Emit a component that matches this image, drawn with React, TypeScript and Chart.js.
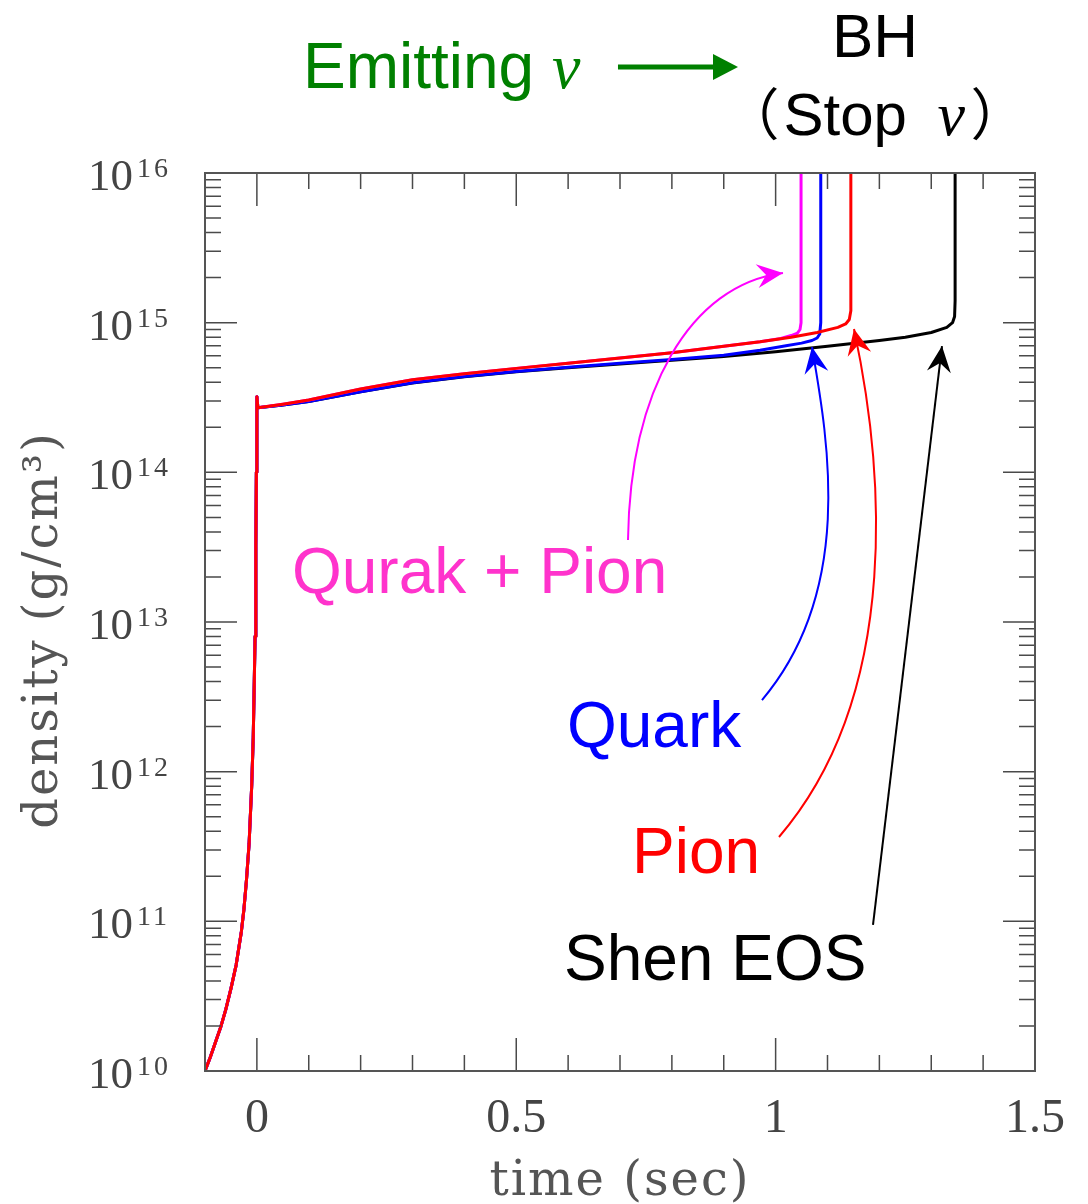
import React, { useEffect, useRef } from 'react';
import { Chart, registerables } from 'chart.js';

Chart.register(...registerables);

// ---------- data (time in sec, density in g/cm^3) ----------
const COLLAPSE_TIME = [-0.1, -0.09, -0.08, -0.07, -0.06, -0.05, -0.04, -0.03, -0.025, -0.02, -0.015, -0.01, -0.007, -0.005, -0.0035, -0.002, -0.001, 0];
const COLLAPSE_DENSITY = [1.0e10, 1.23e10, 1.55e10, 1.95e10, 2.57e10, 3.55e10, 5.1e10, 8.5e10, 1.2e11, 1.9e11, 3.3e11, 8e11, 1.7e12, 4e12, 8e12, 3.2e13, 1e14, 3.2e14];

const SHEN_TIME = [0.002, 0.05, 0.1, 0.2, 0.3, 0.4, 0.5, 0.6, 0.7, 0.8, 0.9, 1.0, 1.1, 1.2, 1.25, 1.3, 1.33, 1.341, 1.345, 1.346, 1.346];
const SHEN_DENSITY = [2.7e14, 2.82e14, 2.97e14, 3.45e14, 3.95e14, 4.35e14, 4.7e14, 5.0e14, 5.3e14, 5.6e14, 5.95e14, 6.4e14, 6.95e14, 7.6e14, 8.0e14, 8.6e14, 9.3e14, 1.0e15, 1.1e15, 1.4e15, 2e16];

const QUARK_TIME = [0.002, 0.05, 0.1, 0.2, 0.3, 0.4, 0.5, 0.6, 0.7, 0.8, 0.9, 0.97, 1.02, 1.05, 1.07, 1.08, 1.085, 1.087, 1.087];
const QUARK_DENSITY = [2.7e14, 2.82e14, 2.97e14, 3.45e14, 3.97e14, 4.37e14, 4.72e14, 5.03e14, 5.35e14, 5.68e14, 6.05e14, 6.55e14, 7.0e14, 7.3e14, 7.6e14, 7.9e14, 8.4e14, 1.0e15, 2e16];

const PION_TIME = [0.002, 0.05, 0.1, 0.2, 0.3, 0.4, 0.5, 0.6, 0.7, 0.8, 0.9, 0.97, 1.03, 1.08, 1.12, 1.135, 1.142, 1.145, 1.145];
const PION_DENSITY = [2.7e14, 2.85e14, 3.04e14, 3.6e14, 4.15e14, 4.55e14, 4.95e14, 5.35e14, 5.8e14, 6.3e14, 6.95e14, 7.45e14, 8.0e14, 8.6e14, 9.3e14, 9.8e14, 1.05e15, 1.2e15, 2e16];

const QP_TIME = [0.002, 0.05, 0.1, 0.2, 0.3, 0.4, 0.5, 0.6, 0.7, 0.8, 0.9, 0.97, 1.01, 1.03, 1.042, 1.047, 1.049, 1.049];
const QP_DENSITY = [2.7e14, 2.85e14, 3.04e14, 3.6e14, 4.15e14, 4.55e14, 4.95e14, 5.35e14, 5.8e14, 6.3e14, 6.95e14, 7.45e14, 7.85e14, 8.2e14, 8.5e14, 9.0e14, 1.0e15, 2e16];

// ---------- axes ----------
const X_MIN = -0.1;
const X_MAX = 1.5;
const X_MINOR_STEP = 0.1;
const X_TICK_VALUES = [0, 0.5, 1, 1.5];
const X_TICK_LABELS = ['0', '0.5', '1', '1.5'];
const Y_MIN = 1e10;
const Y_MAX = 1e16;
const Y_DECADES = [10, 11, 12, 13, 14, 15, 16];
const X_TITLE = 'time (sec)';
const Y_TITLE = 'density (g/cm\u00B3)';

// ---------- annotations (anchored in data coordinates) ----------
const CURVE_ARROWS = [
  { color: '#ff00ff', pts: [[0.7154, 3.53e13], [0.7193, 3.55e14], [0.8349, 1.79e15], [1.0142, 2.15e15]] },
  { color: '#0000ff', pts: [[0.9737, 3.01e12], [1.153, 1.64e13], [1.101, 1.64e14], [1.0701, 6.87e14]] },
  { color: '#ff0000', pts: [[1.0065, 3.66e11], [1.2494, 3.52e12], [1.2051, 1.21e14], [1.1511, 9.08e14]] },
  { color: '#000000', pts: [[1.1877, 9.46e10], [1.3207, 6.98e14]] },
];
const MODEL_LABELS = [
  { text: 'Qurak + Pion', color: '#ff33cc', at: [0.0677, 1.56e13] },
  { text: 'Quark', color: '#0000ff', at: [0.5978, 1.46e12] },
  { text: 'Pion', color: '#ff0000', at: [0.7231, 2.1e11] },
  { text: 'Shen EOS', color: '#000000', at: [0.592, 4.06e10] },
];
const EMIT_TEXT = 'Emitting';
const EMIT_AT = [0.0889, 3.7e16];
const EMIT_ARROW = [[0.6961, 5.11e16], [0.9275, 5.11e16]];
const BH_TEXT = 'BH';
const BH_AT = [1.1916, 5.96e16];
const STOP_TEXT = 'Stop';
const STOP_AT = [1.1916, 1.8e16];
const NU = '\u03BD';

const SANS = '"Liberation Sans", Arial, sans-serif';
const SERIF = '"Liberation Serif", "Times New Roman", serif';
const TITLE_SERIF = '"DejaVu Serif", serif';
const CJK = '"Noto Sans CJK JP", "Noto Sans CJK SC", sans-serif';

function series(time: number[], dens: number[]) {
  const pts = COLLAPSE_TIME.map((t, i) => ({ x: t, y: COLLAPSE_DENSITY[i] }));
  return pts.concat(time.map((t, i) => ({ x: t, y: dens[i] })));
}

function arrowHead(ctx: CanvasRenderingContext2D, tx: number, ty: number, fx: number, fy: number) {
  const dx = tx - fx, dy = ty - fy;
  const L = Math.hypot(dx, dy) || 1;
  const ux = dx / L, uy = dy / L;
  const len = 26, hw = 12, notch = 17;
  const bx = tx - ux * len, by = ty - uy * len;
  ctx.beginPath();
  ctx.moveTo(tx, ty);
  ctx.lineTo(bx - uy * hw, by + ux * hw);
  ctx.lineTo(tx - ux * notch, ty - uy * notch);
  ctx.lineTo(bx + uy * hw, by - ux * hw);
  ctx.closePath();
  ctx.fill();
}

const decorPlugin = {
  id: 'decor',
  afterDatasetsDraw(chart: any) {
    const { ctx, chartArea, scales } = chart;
    const xs = scales.x, ys = scales.y;
    const { left, right, top, bottom } = chartArea;
    const px = (v: number) => xs.getPixelForValue(v);
    const py = (v: number) => ys.getPixelForValue(v);
    ctx.save();

    // inward tick marks on all four sides
    ctx.strokeStyle = '#4a4a4a';
    ctx.lineWidth = 1.5;
    ctx.beginPath();
    const nx = Math.round((X_MAX - X_MIN) / X_MINOR_STEP);
    for (let i = 0; i <= nx; i++) {
      const v = X_MIN + i * X_MINOR_STEP;
      const major = Math.abs(v * 2 - Math.round(v * 2)) < 1e-6;
      const len = major ? 33 : 16;
      const x = px(v);
      ctx.moveTo(x, bottom); ctx.lineTo(x, bottom - len);
      ctx.moveTo(x, top); ctx.lineTo(x, top + len);
    }
    for (const k of Y_DECADES) {
      for (let m = 1; m <= 9; m++) {
        if (k === Y_DECADES[Y_DECADES.length - 1] && m > 1) break;
        const y = py(m * Math.pow(10, k));
        const len = m === 1 ? 32 : 16;
        ctx.moveTo(left, y); ctx.lineTo(left + len, y);
        ctx.moveTo(right, y); ctx.lineTo(right - len, y);
      }
    }
    ctx.stroke();

    // frame
    ctx.strokeStyle = '#555';
    ctx.lineWidth = 2;
    ctx.strokeRect(left, top, right - left, bottom - top);

    // x tick labels
    ctx.fillStyle = '#444';
    ctx.font = `48px ${SERIF}`;
    ctx.textAlign = 'center';
    ctx.textBaseline = 'alphabetic';
    X_TICK_VALUES.forEach((v, i) => ctx.fillText(X_TICK_LABELS[i], px(v), bottom + 61));

    // y tick labels 10^k
    for (const k of Y_DECADES) {
      const y = py(Math.pow(10, k));
      ctx.font = `45px ${SERIF}`;
      ctx.textAlign = 'right';
      ctx.fillText('10', left - 72, y + 17);
      ctx.font = `28px ${SERIF}`;
      ctx.textAlign = 'left';
      (ctx as any).letterSpacing = '3px';
      ctx.fillText(String(k), left - 68, y + 4);
      (ctx as any).letterSpacing = '0px';
    }

    // axis titles
    ctx.fillStyle = '#555';
    ctx.font = `48px ${TITLE_SERIF}`;
    (ctx as any).letterSpacing = '2px';
    ctx.textAlign = 'center';
    ctx.fillText(X_TITLE, (left + right) / 2, bottom + 124);
    ctx.save();
    ctx.translate(left - 148, (top + bottom) / 2 + 8);
    ctx.rotate(-Math.PI / 2);
    ctx.fillText(Y_TITLE, 0, 0);
    ctx.restore();
    (ctx as any).letterSpacing = '0px';

    // curved arrows pointing at the collapse points
    for (const a of CURVE_ARROWS) {
      const p = a.pts.map(([t, d]) => [px(t), py(d)]);
      ctx.strokeStyle = a.color;
      ctx.fillStyle = a.color;
      ctx.lineWidth = 2;
      ctx.beginPath();
      ctx.moveTo(p[0][0], p[0][1]);
      if (p.length === 4) ctx.bezierCurveTo(p[1][0], p[1][1], p[2][0], p[2][1], p[3][0], p[3][1]);
      else ctx.lineTo(p[1][0], p[1][1]);
      ctx.stroke();
      const last = p[p.length - 1], prev = p[p.length - 2];
      arrowHead(ctx, last[0], last[1], prev[0], prev[1]);
    }

    // model labels
    ctx.font = `64px ${SANS}`;
    ctx.textAlign = 'left';
    for (const l of MODEL_LABELS) {
      ctx.fillStyle = l.color;
      ctx.fillText(l.text, px(l.at[0]), py(l.at[1]));
    }

    // "Emitting ν" -> arrow
    ctx.fillStyle = '#008000';
    ctx.font = `64px ${SANS}`;
    const ex = px(EMIT_AT[0]), ey = py(EMIT_AT[1]);
    ctx.fillText(EMIT_TEXT, ex, ey);
    const ew = ctx.measureText(EMIT_TEXT + ' ').width;
    ctx.font = `italic 64px ${SERIF}`;
    ctx.fillText(NU, ex + ew, ey);
    const ax1 = px(EMIT_ARROW[0][0]), ax2 = px(EMIT_ARROW[1][0]), ay = py(EMIT_ARROW[0][1]);
    ctx.strokeStyle = '#008000';
    ctx.lineWidth = 5;
    ctx.beginPath();
    ctx.moveTo(ax1, ay); ctx.lineTo(ax2 - 22, ay);
    ctx.stroke();
    ctx.beginPath();
    ctx.moveTo(ax2, ay); ctx.lineTo(ax2 - 25, ay - 13); ctx.lineTo(ax2 - 25, ay + 13);
    ctx.closePath(); ctx.fill();

    // BH
    ctx.fillStyle = '#000';
    ctx.font = `62px ${SANS}`;
    ctx.textAlign = 'center';
    ctx.fillText(BH_TEXT, px(BH_AT[0]), py(BH_AT[1]));

    // （Stop ν）
    ctx.textAlign = 'left';
    const pieces = [
      { text: '\uFF08', font: `56px ${CJK}`, gap: 8 },
      { text: STOP_TEXT, font: `60px ${SANS}`, gap: 33 },
      { text: NU, font: `italic 62px ${SERIF}`, gap: 7 },
      { text: '\uFF09', font: `56px ${CJK}`, gap: 0 },
    ];
    const ms = pieces.map((pc) => {
      ctx.font = pc.font;
      const m = ctx.measureText(pc.text);
      return { l: m.actualBoundingBoxLeft, w: m.actualBoundingBoxLeft + m.actualBoundingBoxRight };
    });
    const total = ms.reduce((s, m, i) => s + m.w + pieces[i].gap, 0);
    let cur = px(STOP_AT[0]) - total / 2;
    const sy = py(STOP_AT[1]);
    pieces.forEach((pc, i) => {
      ctx.font = pc.font;
      ctx.fillText(pc.text, cur + ms[i].l, sy);
      cur += ms[i].w + pc.gap;
    });

    ctx.restore();
  },
};

export default function App() {
  const ref = useRef<HTMLCanvasElement | null>(null);
  useEffect(() => {
    if (!ref.current) return;
    const common = { borderWidth: 3, pointRadius: 0, tension: 0, fill: false, borderJoinStyle: 'round' as const };
    const chart = new Chart(ref.current, {
      type: 'line',
      data: {
        datasets: [
          { label: 'Pion', data: series(PION_TIME, PION_DENSITY), borderColor: '#ff0000', ...common },
          { label: 'Quark + Pion', data: series(QP_TIME, QP_DENSITY), borderColor: '#ff00ff', ...common },
          { label: 'Quark', data: series(QUARK_TIME, QUARK_DENSITY), borderColor: '#0000ff', ...common },
          { label: 'Shen EOS', data: series(SHEN_TIME, SHEN_DENSITY), borderColor: '#000000', ...common },
        ],
      },
      options: {
        animation: false,
        responsive: false,
        devicePixelRatio: 1,
        layout: { padding: { left: 205, right: 53, top: 173, bottom: 133 } },
        scales: {
          x: { type: 'linear', min: X_MIN, max: X_MAX, display: false },
          y: { type: 'logarithmic', min: Y_MIN, max: Y_MAX, display: false },
        },
        plugins: { legend: { display: false }, tooltip: { enabled: false } },
      },
      plugins: [decorPlugin],
    });
    return () => chart.destroy();
  }, []);
  return (
    <div style={{ position: 'absolute', left: 0, top: 0, width: 1088, height: 1204, background: '#fff' }}>
      <canvas ref={ref} width={1088} height={1204} style={{ display: 'block' }} />
    </div>
  );
}
